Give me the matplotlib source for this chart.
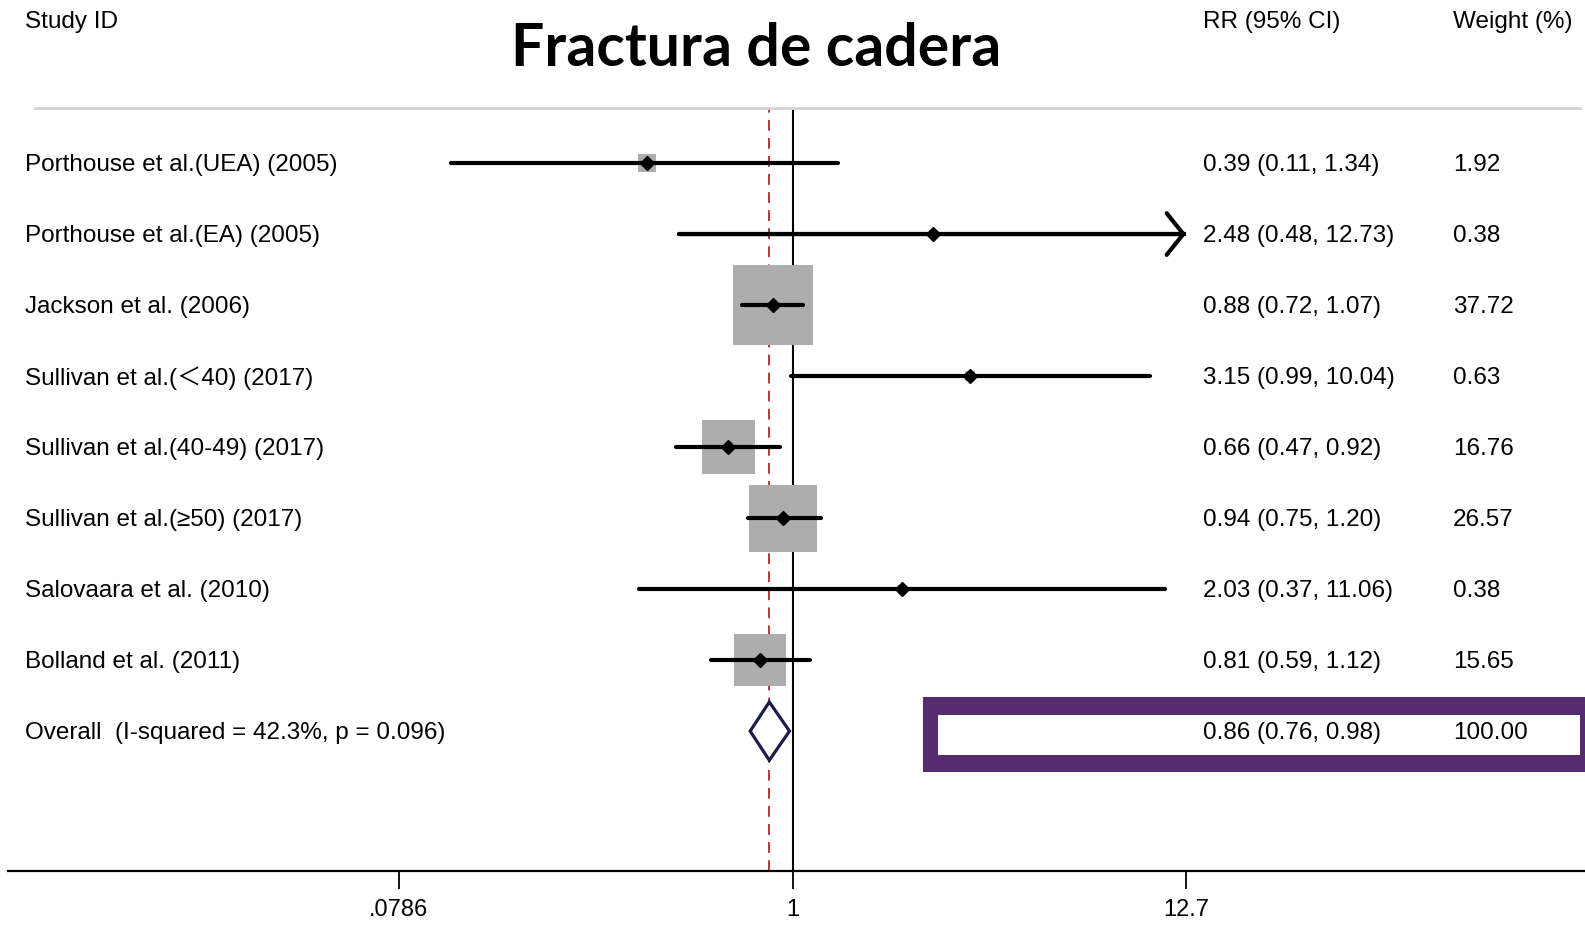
import matplotlib
matplotlib.use("Agg")
import matplotlib.pyplot as plt
import matplotlib.transforms as mtransforms
from matplotlib.patches import Polygon, Rectangle
from matplotlib.lines import Line2D

plt.rcParams['font.family'] = ['Liberation Sans', 'DejaVu Sans', 'Noto Sans CJK SC']

# data
studies = ['Porthouse et al.(UEA) (2005)', 'Porthouse et al.(EA) (2005)',
           'Jackson et al. (2006)', 'Sullivan et al.(\uff1c40) (2017)',
           'Sullivan et al.(40-49) (2017)', 'Sullivan et al.(\u226550) (2017)',
           'Salovaara et al. (2010)', 'Bolland et al. (2011)']
rr = [0.39, 2.48, 0.88, 3.15, 0.66, 0.94, 2.03, 0.81]
lo = [0.11, 0.48, 0.72, 0.99, 0.47, 0.75, 0.37, 0.59]
hi = [1.34, 12.73, 1.07, 10.04, 0.92, 1.20, 11.06, 1.12]
weight = [1.92, 0.38, 37.72, 0.63, 16.76, 26.57, 0.38, 15.65]

overall_label = 'Overall  (I-squared = 42.3%, p = 0.096)'
overall_rr, overall_lo, overall_hi = 0.86, 0.76, 0.98

xticks = [0.0786, 1, 12.7]
xticklabels = ['.0786', '1', '12.7']

W, H = 1585, 925
fig = plt.figure(figsize=(W / 100, H / 100), dpi=100)

# purple highlight box around overall estimate (behind everything)
fig.patches.append(Rectangle((923 / W, 1 - 772 / H), (W - 923) / W, 75 / H,
                             transform=fig.transFigure, facecolor='#552d6e',
                             edgecolor='none', zorder=0))
fig.patches.append(Rectangle((938 / W, 1 - 755 / H), (1580 - 938) / W, 40 / H,
                             transform=fig.transFigure, facecolor='white',
                             edgecolor='none', zorder=0))

ax = fig.add_axes([399 / W, 1 - 871 / H, (1186 - 399) / W, (871 - 108) / H])
ax.patch.set_alpha(0)
ax.set_xscale('log')
ax.set_xlim(xticks[0], xticks[-1])
ax.set_ylim(9.97, -0.775)
for s in ax.spines.values():
    s.set_visible(False)

n = len(studies)
ys = list(range(n))
ov_y = n

# reference lines
ax.axvline(1, color='black', lw=1.5, zorder=1)
ax.axvline(overall_rr, color='#b22a2a', lw=1.3, dashes=(6, 4), zorder=1)

# weight boxes
ax.scatter(rr, ys, s=[w * 88 for w in weight], marker='s', color='#adadad',
           linewidths=0, zorder=2)

xmax = xticks[-1]
for y, r, l, h in zip(ys, rr, lo, hi):
    if h > xmax:
        ax.plot([l, xmax], [y, y], color='black', lw=3, solid_capstyle='round', zorder=3)
        ax.annotate('', xy=(xmax, y), xytext=(l, y),
                    arrowprops=dict(arrowstyle='->,head_length=0.6,head_width=0.75',
                                    mutation_scale=20, lw=3, color='black',
                                    capstyle='round', joinstyle='round',
                                    shrinkA=0, shrinkB=0), zorder=3)
    else:
        ax.plot([l, h], [y, y], color='black', lw=3, solid_capstyle='round', zorder=3)
ax.plot(rr, ys, 'D', color='black', markersize=7, zorder=4)

# overall diamond
dh = 0.41
ax.add_patch(Polygon([(overall_lo, ov_y), (overall_rr, ov_y - dh),
                      (overall_hi, ov_y), (overall_rr, ov_y + dh)],
                     closed=True, facecolor='white', edgecolor='#1c1c4c',
                     lw=2.3, zorder=4))

ax.set_xticks(xticks)
ax.set_xticklabels(xticklabels, fontsize=17)
ax.xaxis.set_minor_locator(matplotlib.ticker.NullLocator())
ax.tick_params(axis='x', length=13, width=1.3, pad=7)
ax.set_yticks([])

# horizontal rules
fig.add_artist(Line2D([35 / W, 1580 / W], [1 - 108 / H] * 2, color='#d4d4d4', lw=2))
fig.add_artist(Line2D([8 / W, 1.0], [1 - 871 / H] * 2, color='black', lw=1.6))

# text columns
tr = mtransforms.blended_transform_factory(fig.transFigure, ax.transData)
dy = 0.03  # nudge text down a touch to sit on the row line
fs = 17.5
for y, name, r, l, h, w in zip(ys, studies, rr, lo, hi, weight):
    fig.text(25 / W, y + dy, name, transform=tr, fontsize=fs, va='center')
    fig.text(1203 / W, y + dy, f'{r:.2f} ({l:.2f}, {h:.2f})', transform=tr, fontsize=fs, va='center')
    fig.text(1453 / W, y + dy, f'{w:.2f}', transform=tr, fontsize=fs, va='center')
fig.text(25 / W, ov_y + dy, overall_label, transform=tr, fontsize=fs, va='center')
fig.text(1203 / W, ov_y + dy, f'{overall_rr:.2f} ({overall_lo:.2f}, {overall_hi:.2f})',
         transform=tr, fontsize=fs, va='center')
fig.text(1453 / W, ov_y + dy, '100.00', transform=tr, fontsize=fs, va='center')

fig.text(25 / W, 1 - 22 / H, 'Study ID', fontsize=fs, va='center')
fig.text(1203 / W, 1 - 22 / H, 'RR (95% CI)', fontsize=fs, va='center')
fig.text(1453 / W, 1 - 22 / H, 'Weight (%)', fontsize=fs, va='center')
fig.text(756 / W, 1 - 49 / H, 'Fractura de cadera', fontsize=42.5, fontweight='bold',
         family=['Lato', 'DejaVu Sans'], ha='center', va='center')

fig.savefig('out.png', dpi=100)
